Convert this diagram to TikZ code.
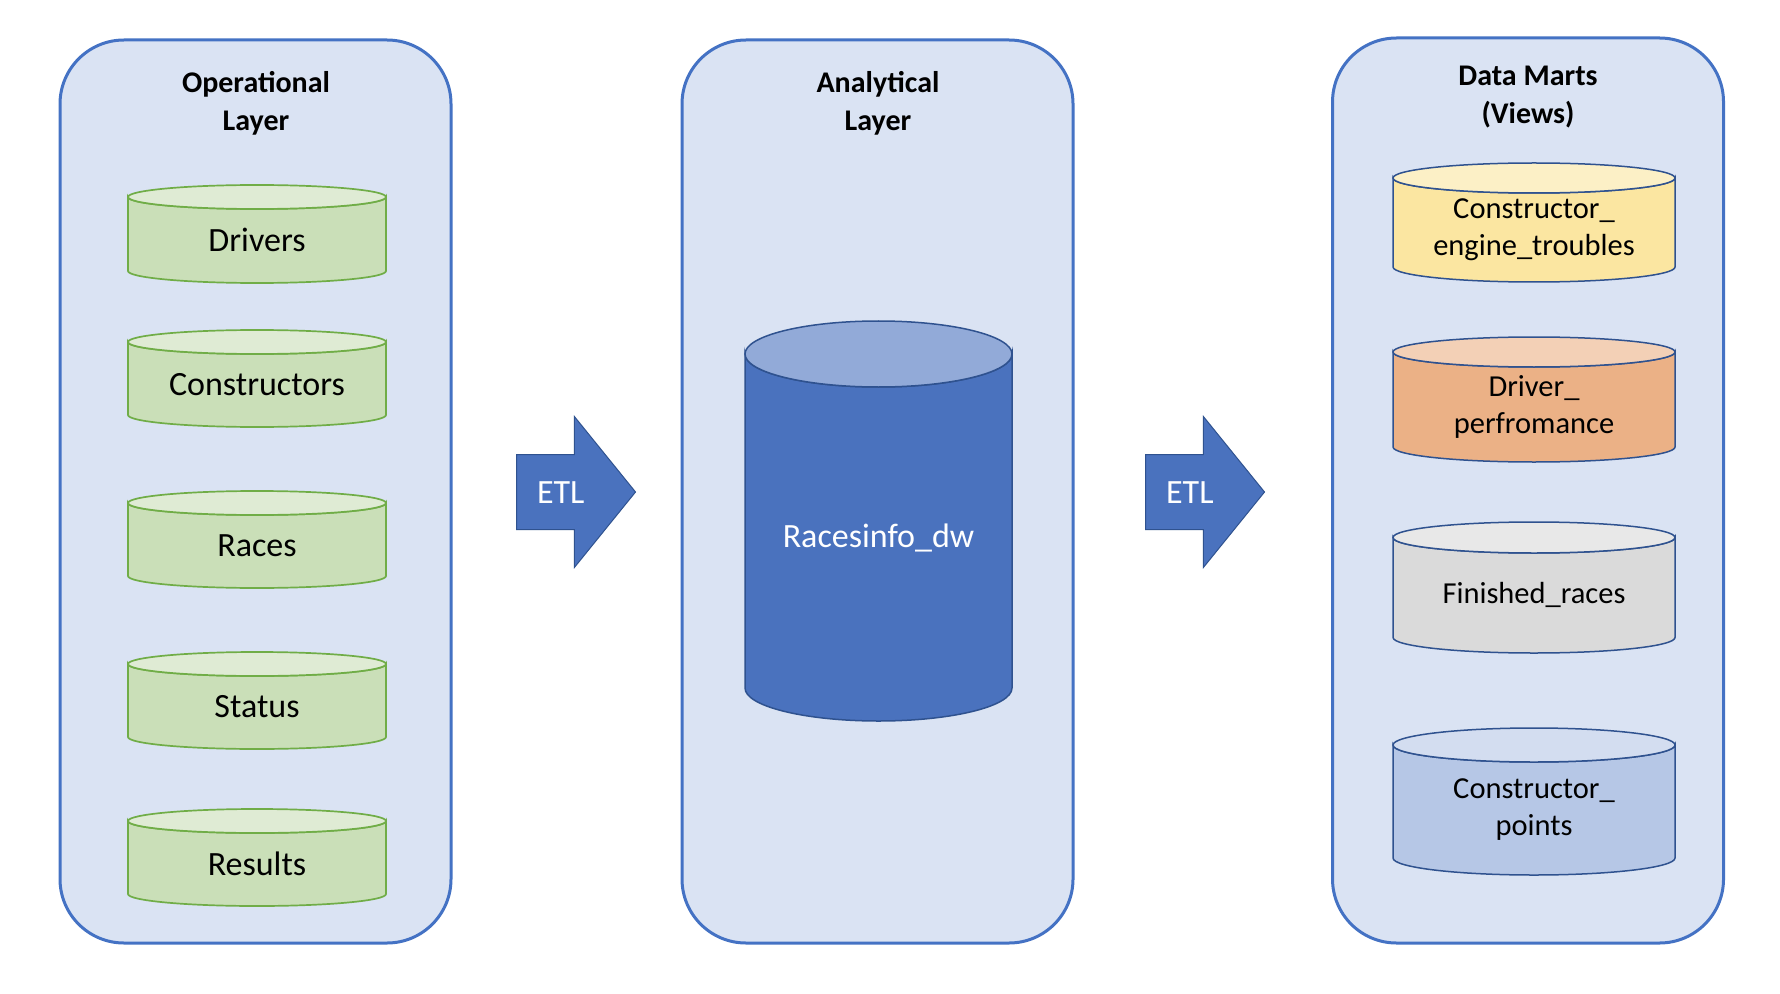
\documentclass[tikz,border=0pt]{standalone}
\usepackage{fontspec}
\setmainfont{Carlito}
\usepackage{xcolor}
\usetikzlibrary{shapes.arrows,positioning}

\definecolor{layerfill}{HTML}{DAE3F3}
\definecolor{layerline}{HTML}{4472C4}
\definecolor{srcfill}{HTML}{CADFB8}
\definecolor{srcline}{HTML}{70AD47}
\definecolor{dwfill}{HTML}{4A72BE}
\definecolor{darkline}{HTML}{2F528F}
\definecolor{troublesfill}{HTML}{FBE6A1}
\definecolor{perffill}{HTML}{EBB186}
\definecolor{finishedfill}{HTML}{DADADA}
\definecolor{pointsfill}{HTML}{B6C7E6}

\tikzset{
  layer/.style={draw=layerline, fill=layerfill, line width=1.5pt,
                rounded corners=32pt, minimum width=195.5pt},
  title/.style={font=\bfseries\fontsize{15}{19}\selectfont, align=center},
  dbtext/.style={font=\fontsize{17}{20}\selectfont, align=center},
  marttext/.style={font=\fontsize{15.25}{18.5}\selectfont, align=center},
  srcdb/.style={fill=srcfill, draw=srcline, line width=0.85pt},
  dwdb/.style={fill=dwfill, draw=darkline, line width=0.75pt},
  martdb/.style={draw=darkline, line width=0.75pt, fill=#1},
  etl/.style={single arrow, fill=dwfill, draw=darkline, line width=0.5pt,
              minimum height=59.5pt, minimum width=75pt,
              text height=11pt, text depth=0pt, inner ysep=13pt, inner xsep=0pt,
              single arrow head extend=19pt, single arrow tip angle=102,
              anchor=tail, text=white, font=\fontsize{17}{20}\selectfont}
}

% cylinder: shape style, text style, name, x, top, bottom, x radius, y radius, text
\newcommand{\dbcyl}[9]{%
  \path[#1] (#4-#7,#5+#8) -- (#4-#7,#6-#8)
    arc[start angle=180, end angle=0, x radius=#7, y radius=#8]
    -- (#4+#7,#5+#8)
    arc[start angle=0, end angle=180, x radius=#7, y radius=#8] -- cycle;
  \path[#1, draw=none] (#4,#5+#8) ellipse[x radius=#7, y radius=#8];
  \fill[white, fill opacity=.4] (#4,#5+#8) ellipse[x radius=#7, y radius=#8];
  \path[#1, fill=none] (#4,#5+#8) ellipse[x radius=#7, y radius=#8];
  \node[#2] (#3) at (#4,{(#5+#8+#6)/2}) {#9};
}

\begin{document}
\begin{tikzpicture}[x=0.5pt, y=-0.5pt]
  \path[use as bounding box, fill=white] (0,0) rectangle (1780,994);

  % layers
  \node[layer, minimum height=451.5pt] (oplayer) at (255.5,491.5) {};
  \node[layer, minimum height=451.5pt] (anlayer) at (877.5,491.5) {};
  \node[layer, minimum height=452.5pt] (dmlayer) at (1528,490.5) {};

  \node[title] (optitle) at (256,103) {Operational\\Layer};
  \node[title] (antitle) at (878,103) {Analytical\\Layer};
  \node[title] (dmtitle) at (1528,97) {Data Marts\\(Views)};

  % operational tables
  \dbcyl{srcdb}{dbtext}{drivers}{257}{185}{283}{129}{12}{Drivers}
  \dbcyl{srcdb}{dbtext}{constructors}{257}{330}{427}{129}{12}{Constructors}
  \dbcyl{srcdb}{dbtext}{races}{257}{491}{588}{129}{12}{Races}
  \dbcyl{srcdb}{dbtext}{status}{257}{652}{749}{129}{12}{Status}
  \dbcyl{srcdb}{dbtext}{results}{257}{809}{906}{129}{12}{Results}

  % warehouse
  \dbcyl{dwdb}{dbtext, text=white}{racesinfo}{878.5}{321}{721}{133.5}{33}{Racesinfo\_dw}

  % data marts
  \dbcyl{martdb=troublesfill}{marttext}{troubles}{1534}{163}{282}{141}{15}{Constructor\_\\engine\_troubles}
  \dbcyl{martdb=perffill}{marttext}{perf}{1534}{337}{462}{141}{15}{Driver\_\\perfromance}
  \dbcyl{martdb=finishedfill}{marttext}{finished}{1534}{522}{653}{141}{15.5}{Finished\_races}
  \dbcyl{martdb=pointsfill}{marttext}{points}{1534}{728}{875}{141}{17}{Constructor\_\\points}

  % etl steps
  \node[etl] (etl1) at (516,492) {ETL};
  \node[etl] (etl2) at (1145,492) {ETL};
\end{tikzpicture}
\end{document}
